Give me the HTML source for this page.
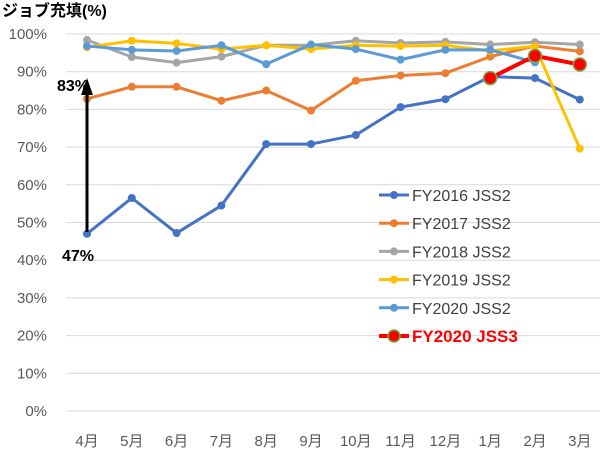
<!DOCTYPE html>
<html><head><meta charset="utf-8"><style>
body{margin:0;background:#fff;}
svg{font-family:"Liberation Sans","Noto Sans CJK JP",sans-serif;display:block}
</style></head><body>
<svg id="c" width="602" height="474">
<text x="2" y="16" font-size="16" font-weight="bold" fill="#000">ジョブ充填(%)</text>
<g id="grid"></g><g id="xl"></g><g id="series"></g><g id="legend"></g>
<line x1="87" y1="232" x2="87" y2="92" stroke="#000" stroke-width="3"/>
<polygon points="81,95 93,95 87,78" fill="#000"/>
<text x="57" y="91" font-size="16" font-weight="bold">83%</text>
<text x="62" y="261" font-size="16" font-weight="bold">47%</text>
</svg>
<script>
const months=["4月","5月","6月","7月","8月","9月","10月","11月","12月","1月","2月","3月"];
const yTicks=[0,10,20,30,40,50,60,70,80,90,100];
const names=["FY2016 JSS2","FY2017 JSS2","FY2018 JSS2","FY2019 JSS2","FY2020 JSS2","FY2020 JSS3"];
const fy2016=[47,56.5,47.2,54.5,70.8,70.8,73.2,80.6,82.7,88.7,88.3,82.6];
const fy2017=[82.8,86,86,82.3,85,79.7,87.6,89,89.6,94,96.8,95.4];
const fy2018=[98.4,93.9,92.4,94,97,97,98.2,97.6,97.9,97.2,97.8,97.2];
const fy2019=[96.5,98.2,97.5,96,97,96,97,96.8,97,95.5,96.8,69.6];
const fy2020=[96.8,95.8,95.5,97,92,97.2,96,93.2,95.8,95.8,92.5,null];
const fy2020j3=[null,null,null,null,null,null,null,null,null,88.3,94.2,91.9];
const colors=["#4472c4","#ed7d31","#a5a5a5","#ffc000","#5b9bd5","#ff0000"];
const NS="http://www.w3.org/2000/svg";
const X=i=>87+i*44.8, Y=v=>411-v*3.77;
function mk(t,a,p){const e=document.createElementNS(NS,t);for(const k in a)e.setAttribute(k,a[k]);p.appendChild(e);return e;}
const grid=document.getElementById('grid');
yTicks.forEach(v=>{
 const l=mk('line',{x1:66,x2:600,y1:Y(v),y2:Y(v),stroke:'#d9d9d9','stroke-width':1},grid);
 
 
 const t=mk('text',{x:47,y:Y(v)+5,'text-anchor':'end','font-size':15,fill:'#595959'},grid);
 t.textContent=v+'%';
 
 
});
const xl=document.getElementById('xl');
months.forEach((m,i)=>{
 const t=mk('text',{x:X(i),y:446,'text-anchor':'middle','font-size':15,fill:'#595959'},xl);
 t.textContent=m;
 
 
});
const data=[fy2016,fy2017,fy2018,fy2019,fy2020,fy2020j3];
const sg=document.getElementById('series');
data.forEach((d,s)=>{
 const g=mk('g',{},sg);
 
 
 const pts=d.map((v,i)=>v==null?null:X(i)+','+Y(v)).filter(p=>p);
 const big=s===5;
 mk('polyline',{points:pts.join(' '),fill:'none',stroke:colors[s],'stroke-width':big?4:3,'stroke-linejoin':'round'},g);
 d.forEach((v,i)=>{if(v==null)return;
  const c=mk('circle',{cx:X(i),cy:Y(v),r:big?6.5:4,fill:colors[s],stroke:big?'#70ad47':'none','stroke-width':big?1.5:0},g);
  
  
 });
});
const lg=document.getElementById('legend');
names.forEach((n,s)=>{
 const y=195+s*28.2, big=s===5;
 const g=mk('g',{},lg);
 
 
 mk('line',{x1:379,x2:409,y1:y,y2:y,stroke:colors[s],'stroke-width':big?4:3},g);
 mk('circle',{cx:394,cy:y,r:big?6:4,fill:colors[s],stroke:big?'#70ad47':'none','stroke-width':1.5},g);
 const t=mk('text',{x:412,y:y+6,'font-size':big?17:16,'font-weight':big?'bold':'normal',fill:big?'#ff0000':'#404040'},g);
 t.textContent=n;
});
</script>
</body></html>
